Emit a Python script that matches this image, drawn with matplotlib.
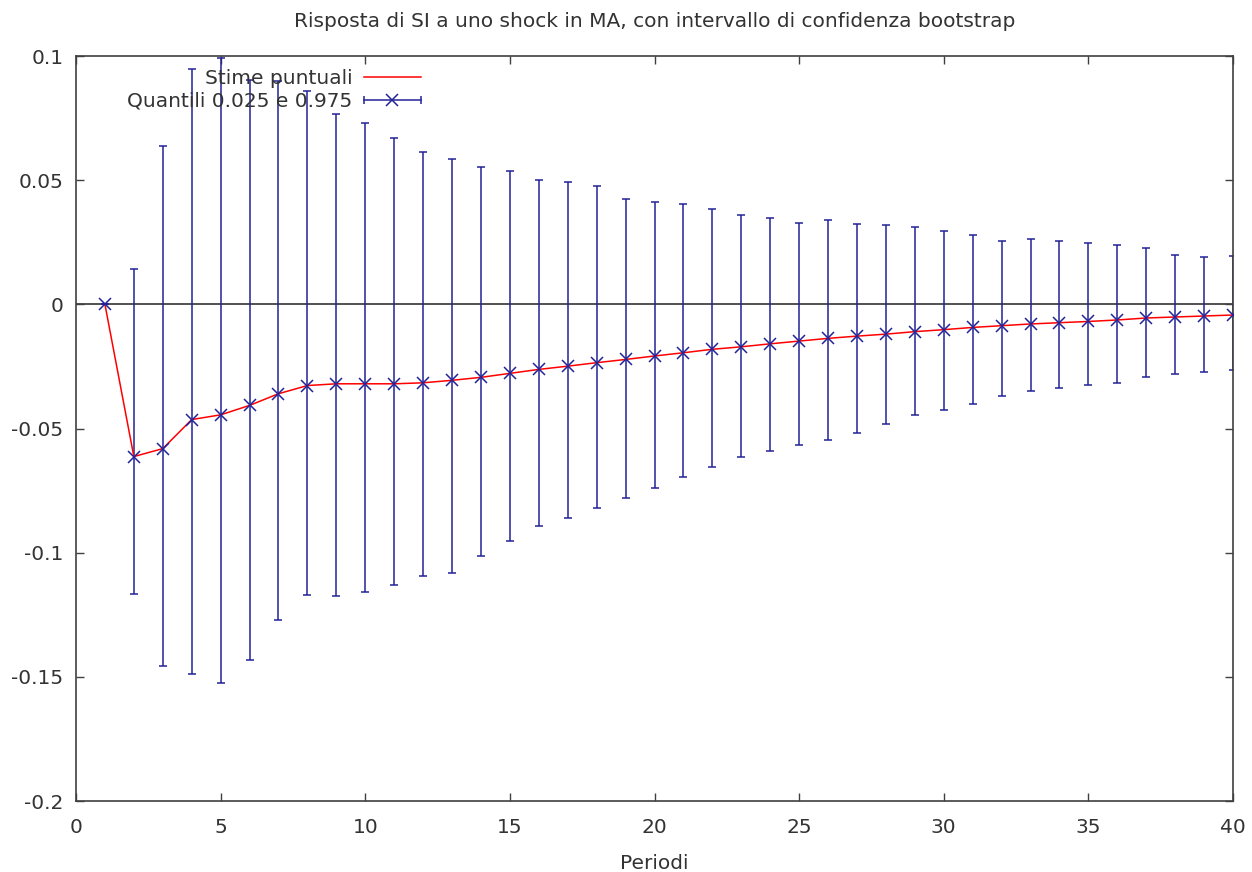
import numpy as np
import matplotlib
matplotlib.use("Agg")
import matplotlib.pyplot as plt
from matplotlib.lines import Line2D
from matplotlib.legend_handler import HandlerLine2D, HandlerTuple

plt.rcParams['font.family'] = ['DejaVu Sans']
plt.rcParams['axes.unicode_minus'] = False

periodi = np.arange(1, 41)
stime = [0.0, -0.0613, -0.0581, -0.0464, -0.0445, -0.0407, -0.0360, -0.0327, -0.0320, -0.0320,
         -0.0320, -0.0316, -0.0306, -0.0294, -0.0278, -0.0262, -0.0249, -0.0235, -0.0222, -0.0208,
         -0.0195, -0.0181, -0.0171, -0.0159, -0.0148, -0.0137, -0.0128, -0.0120, -0.0110, -0.0102,
         -0.0093, -0.0086, -0.0079, -0.0074, -0.0069, -0.0063, -0.0055, -0.0051, -0.0047, -0.0043]
q_alto = [0.0, 0.0142, 0.0638, 0.0946, 0.0991, 0.0905, 0.0899, 0.0858, 0.0766, 0.0730,
          0.0671, 0.0614, 0.0586, 0.0555, 0.0538, 0.0499, 0.0491, 0.0475, 0.0426, 0.0413,
          0.0403, 0.0382, 0.0359, 0.0346, 0.0329, 0.0340, 0.0324, 0.0321, 0.0310, 0.0297,
          0.0279, 0.0255, 0.0263, 0.0257, 0.0245, 0.0239, 0.0228, 0.0199, 0.0191, 0.0194]
q_basso = [0.0, -0.1167, -0.1458, -0.1489, -0.1523, -0.1434, -0.1270, -0.1172, -0.1176, -0.1157,
           -0.1130, -0.1093, -0.1083, -0.1012, -0.0952, -0.0892, -0.0860, -0.0821, -0.0780, -0.0741,
           -0.0696, -0.0655, -0.0616, -0.0589, -0.0567, -0.0547, -0.0517, -0.0481, -0.0446, -0.0425,
           -0.0403, -0.0371, -0.0348, -0.0337, -0.0325, -0.0315, -0.0293, -0.0282, -0.0274, -0.0266]

titolo = "Risposta di SI a uno shock in MA, con intervallo di confidenza bootstrap"
blu = '#23239a'
rosso = '#ff0000'
grigio = '#333333'
fs = 14.5

stime_a = np.array(stime)
yerr = [stime_a - np.array(q_basso), np.array(q_alto) - stime_a]

fig = plt.figure(figsize=(12.52, 8.72), dpi=100)
ax = fig.add_axes([76 / 1252, 1 - 801 / 872, (1233 - 76) / 1252, (801 - 56) / 872])

ax.axhline(0, color='#222222', lw=1.1, zorder=1)
ax.errorbar(periodi, stime_a, yerr=yerr, fmt='none', ecolor=blu, elinewidth=1.1,
            capsize=3, capthick=1.1, zorder=2)
ax.plot(periodi, stime_a, color=rosso, lw=1.1, zorder=3)
ax.plot(periodi, stime_a, ls='none', marker='x', color=blu, ms=8.5, mew=1.1, zorder=4)

ax.set_xlim(0, 40)
ax.set_ylim(-0.2, 0.1)
ax.set_xticks(np.arange(0, 41, 5))
ax.set_yticks(np.arange(-0.2, 0.101, 0.05))
ax.set_yticklabels(['-0.2', '-0.15', '-0.1', '-0.05', '0', '0.05', '0.1'])
ax.tick_params(direction='in', length=6, width=1, color='#404040', top=True, right=True,
               labelsize=fs, labelcolor=grigio)
ax.tick_params(axis='x', pad=12)
ax.tick_params(axis='y', pad=9)
for sp in ax.spines.values():
    sp.set_color('#404040')
    sp.set_linewidth(1.2)

ax.text(0.5, 1 + 35 / 745, titolo, transform=ax.transAxes, ha='center', va='center',
        fontsize=fs, color=grigio)
ax.text(0.5, -62 / 745, "Periodi", transform=ax.transAxes, ha='center', va='center',
        fontsize=fs, color=grigio)

# legenda stile gnuplot: testo a sinistra, campione a destra
h_stime = Line2D([], [], color=rosso, lw=1.1)
h_caps = Line2D([], [], color=blu, lw=1.1, marker='|', ms=6, mew=1.1)
h_x = Line2D([], [], color=blu, ls='none', marker='x', ms=8.5, mew=1.1)
leg = ax.legend([h_stime, (h_caps, h_x)], ["Stime puntuali", "Quantili 0.025 e 0.975"],
                handler_map={h_caps: HandlerLine2D(numpoints=2, marker_pad=0),
                             tuple: HandlerTuple(ndivide=1, pad=0)},
                loc='upper right', bbox_to_anchor=(345 / 1157, 0.983), frameon=False,
                markerfirst=False, fontsize=fs, handlelength=2.85, handletextpad=0.55,
                labelspacing=0.2, borderpad=0, borderaxespad=0)
for t in leg.get_texts():
    t.set_color(grigio)
    t.set_ha('right')

fig.savefig('out.png', dpi=100, facecolor='white')
